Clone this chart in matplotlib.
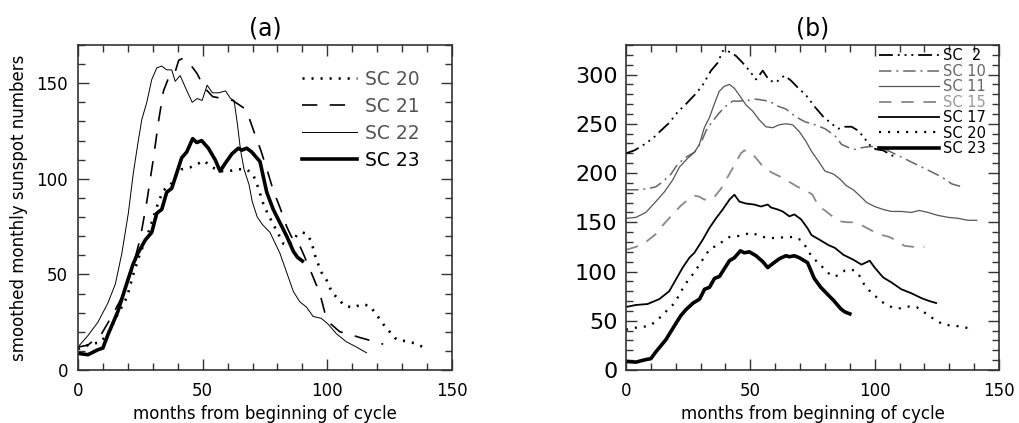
import matplotlib
matplotlib.use('Agg')
import matplotlib.pyplot as plt
from matplotlib.ticker import MultipleLocator

plt.rcParams['font.family'] = ['DejaVu Sans']
plt.rcParams['lines.scale_dashes'] = False

# ---- panel (a): months from start of cycle vs smoothed sunspot number ----
sc20_m = [0, 5, 9, 12, 15.5, 19.6, 22.2, 24.9, 27.6, 30.3, 32.3, 34.3, 37, 39, 41.6, 45,
          48.3, 50.4, 53.9, 57, 60.4, 64.4, 67.7, 70.3, 72.4, 74, 76, 78, 80, 82.4, 84,
          86, 88, 90, 92, 93.6, 95.5, 97.7, 99.7, 101.7, 104.4, 107, 110.4, 113.7, 117,
          119.7, 122.4, 125, 127.7, 131.7, 135, 138.4, 140]
sc20_r = [11, 13.5, 14.5, 19, 28, 38, 50, 61, 69.5, 80, 88, 94, 96.5, 101, 105, 106,
          108, 109.5, 106, 104, 104, 105, 105, 102, 95, 88, 82, 77, 72, 66, 65,
          67, 71, 72, 71, 67, 58, 51, 47, 41, 37, 33.6, 32.6, 34.4, 33.6,
          29, 24, 20, 16, 15, 14, 12, 11]

sc21_m = [0, 4, 9.5, 13.5, 17.6, 21.6, 25, 27.6, 30.3, 32.3, 34.3, 37, 39, 40.4, 42,
          44.4, 47.8, 50.5, 54, 58, 62, 66.6, 68.6, 71.3, 73.3, 76, 78.3, 81, 83.7,
          85.5, 87, 88.4, 90.3, 93.7, 97, 99, 101, 105, 109, 113, 118.4, 122.4]
sc21_r = [12, 13, 19, 28, 38, 52, 69, 88, 111, 130, 146, 155, 156, 162, 163,
          161, 155, 148, 143, 142, 141, 137, 132, 122, 115, 104, 94, 85, 75,
          70, 67, 66.5, 61, 50.5, 40, 30, 24.5, 20, 18.6, 17, 15, 13.5]

sc22_m = [0, 4, 8, 12, 15, 17.6, 20.2, 22.2, 24.2, 25.6, 27.6, 29.6, 31.6, 33.6, 35.6,
          37.6, 39, 41, 43, 45.8, 47.8, 49.8, 51.8, 53.9, 56.5, 59.2, 61.2, 62.6, 63.9,
          65.2, 66.6, 68.6, 69.9, 71.9, 74, 77, 81, 83.7, 86.4, 89, 91.6, 94.3, 97.6,
          100.3, 103.6, 107.6, 111.7, 115.7]
sc22_r = [12, 18, 25, 35, 45, 61, 82, 103, 120, 131, 140, 152, 158, 159, 157,
          157, 151, 154, 148, 140, 142, 141, 149, 145, 145, 146, 142, 141, 129,
          115, 105, 97, 88, 80, 76, 72, 61, 51, 41, 35.6, 33, 28, 27,
          24, 19, 14.8, 12, 9]

sc23_m = [0, 4, 8, 10, 12, 16, 20, 22, 24, 27, 29.6, 31.6, 33.6, 35.6, 37.6, 39.6, 41.6,
          43.6, 46, 47.6, 49.6, 52.3, 55, 57, 59, 61.7, 64.3, 65.7, 67.7, 69.7, 73,
          75.7, 78.3, 81, 83.7, 86.4, 88, 90]
sc23_r = [8.7, 8, 10.6, 11.5, 18.4, 30.6, 47, 55, 61, 68, 72, 82, 84, 93, 95, 103, 111,
          114, 121, 119, 120, 116, 110, 104, 108, 113, 116, 115, 116, 114, 109,
          93, 84, 77, 70, 62, 59, 57]

# ---- panel (b): cycles shifted up so they can be compared ----
sc2_m = [0, 3.4, 6.7, 10.7, 14, 17.4, 20.8, 24.1, 27.5, 30.8, 34.2, 36.9, 38.9, 40.2,
         44.2, 46.9, 49.6, 52.3, 55, 57.6, 60.3, 63.7, 66.3, 69, 72.4, 76, 79.4, 82.7,
         85.4, 88, 90.7, 93.4, 96, 98.8, 100.8, 103.4, 106.8, 108]
sc2_r = [220, 223, 228, 235, 243, 251, 262, 270, 279, 289, 304, 312, 324, 325,
         319, 312, 304, 295, 304, 294, 292, 299, 294, 287, 279, 267, 257, 250,
         245, 247, 247, 243, 235, 226, 224, 223, 218, 217]

sc10_m = [0, 4.5, 8.5, 12, 14.8, 18.1, 20.8, 24.1, 27.5, 30.2, 32.2, 34.9, 37.5, 40.2,
          42.9, 45.6, 49.6, 52.3, 55, 57.6, 61, 64.3, 68.3, 72, 76, 80, 84, 86.7, 89.4,
          92, 95.4, 98.8, 102.8, 106.8, 110.9, 114.9, 119, 123, 127, 131, 135]
sc10_r = [183, 183, 184, 186, 191, 199, 209, 216, 221, 231, 243, 253, 261, 268,
          273, 273, 274, 275, 274, 273, 268, 265, 257, 252, 249, 245, 238, 229, 226,
          224, 226, 227, 226, 221, 216, 211, 206, 201, 196, 189, 186]

sc11_m = [0, 4, 8, 12, 15.5, 18.8, 21.5, 24.8, 27.5, 29.5, 31.5, 33.5, 35.5, 37.5, 39.5,
          41.6, 43.6, 45.6, 48.3, 50.9, 53.6, 56.3, 59, 61.6, 64.3, 67, 69.7, 72.4,
          74.6, 77.4, 80, 83.4, 86, 88.7, 91.4, 94, 96.8, 100, 103.4, 106.7, 110.7,
          114.8, 118, 121.4, 125.4, 129.5, 133.5, 137.5, 141]
sc11_r = [154, 155, 160, 171, 181, 193, 206, 215, 221, 229, 246, 256, 270, 283, 288,
          290, 286, 279, 269, 263, 254, 247, 246, 249, 250, 249, 242, 232,
          222, 212, 202, 199, 194, 187, 183, 177, 170, 166, 163, 161, 161,
          160, 162, 160, 157, 155, 154, 152, 152]

sc15_m = [0, 4, 8, 12, 14.8, 18.8, 22.1, 25.5, 27.5, 29.5, 31.5, 35, 38.2, 40.9, 43.6,
          46.2, 47.6, 50.3, 53, 55.6, 59, 62.3, 65.7, 69, 72, 75, 77.5, 80, 83, 86, 89,
          91, 94, 97, 100, 103, 106, 109, 112, 116, 120]
sc15_r = [122, 125, 130, 138, 147, 158, 167, 174, 177, 176, 173, 174, 184, 196, 208,
          220, 223, 221, 213, 205, 200, 196, 191, 186, 183, 178, 166, 162, 156, 151, 150,
          150, 148, 144, 140, 137, 135, 131, 126, 125, 125]

sc17_m = [0, 4, 8.7, 13.4, 17.4, 20.1, 22.8, 25.5, 27.5, 30.8, 33.5, 36.2, 38.9, 41.6,
          43.6, 45.6, 48.3, 51.6, 54.3, 57, 58.3, 61, 63, 65.7, 67.7, 70.4, 73, 74.6,
          78, 81.3, 84, 87.4, 91.4, 94.7, 98, 100, 103.4, 106.7, 110.7, 114.7, 118.8,
          122, 124.7]
sc17_r = [64, 66, 67, 72, 80, 92, 104, 114, 119, 132, 144, 154, 163, 173,
          178, 171, 169, 168, 166, 168, 165, 163, 161, 156, 158, 153, 144, 137,
          132, 127, 124, 117, 112, 107, 111, 104, 94, 89, 82, 78, 73,
          70, 68]

sc20_shift = 30   # SC 20 drawn 30 units higher in panel (b)

fig = plt.figure(figsize=(10.19, 4.23), dpi=100)
ax1 = fig.add_axes([0.0765, 0.1253, 0.3671, 0.7683])
ax2 = fig.add_axes([0.6143, 0.1253, 0.3661, 0.7683])

# panel a
l20, = ax1.plot(sc20_m, sc20_r, color='black', lw=1.9, dashes=(1.5, 5))
l21, = ax1.plot(sc21_m, sc21_r, color='black', lw=1.2, dashes=(11, 9))
l22, = ax1.plot(sc22_m, sc22_r, color='black', lw=0.7)
l23, = ax1.plot(sc23_m, sc23_r, color='black', lw=2.6)

leg = ax1.legend([l20, l21, l22, l23], ['SC 20', 'SC 21', 'SC 22', 'SC 23'],
                 loc='upper left', bbox_to_anchor=(0.555, 0.975), frameon=False,
                 handlelength=2.9, handletextpad=0.45, labelspacing=0.42, fontsize=13.5)
for t, c in zip(leg.get_texts(), ['#555555', '#555555', '#555555', 'black']):
    t.set_color(c)

ax1.set_xlim(0, 150)
ax1.set_ylim(0, 170)
ax1.set_title('(a)', fontsize=17, pad=7)
ax1.set_xlabel('months from beginning of cycle', fontsize=12, labelpad=3)
ax1.set_ylabel('smoothed monthly sunspot numbers', fontsize=12, labelpad=6)

# panel b
b2, = ax2.plot(sc2_m, sc2_r, color='black', lw=1.3, dashes=(10, 3.5, 1.4, 3.5, 1.4, 3.5, 1.4, 3.5))
b10, = ax2.plot(sc10_m, sc10_r, color='#666666', lw=1.1, dashes=(9, 3.5, 1.4, 3.5))
b11, = ax2.plot(sc11_m, sc11_r, color='#555555', lw=0.9)
b15, = ax2.plot(sc15_m, sc15_r, color='#888888', lw=1.3, dashes=(9, 7))
b17, = ax2.plot(sc17_m, sc17_r, color='black', lw=1.3)
b20, = ax2.plot(sc20_m, [v + sc20_shift for v in sc20_r], color='black', lw=1.6, dashes=(1.5, 5))
b23, = ax2.plot(sc23_m, sc23_r, color='black', lw=2.6)

leg2 = ax2.legend([b2, b10, b11, b15, b17, b20, b23],
                  ['SC  2', 'SC 10', 'SC 11', 'SC 15', 'SC 17', 'SC 20', 'SC 23'],
                  loc='upper right', bbox_to_anchor=(0.985, 1.012), frameon=False,
                  handlelength=4.1, handletextpad=0.3, labelspacing=0.03,
                  borderaxespad=0.1, fontsize=10.5)
for t, c in zip(leg2.get_texts(), ['black', '#666666', '#666666', '#999999', 'black', 'black', 'black']):
    t.set_color(c)

ax2.set_xlim(0, 150)
ax2.set_ylim(0, 330)
ax2.set_title('(b)', fontsize=17, pad=7)
ax2.set_xlabel('months from beginning of cycle', fontsize=12, labelpad=3)

# IDL-like axes: ticks inside on every side
for ax in (ax1, ax2):
    ax.xaxis.set_major_locator(MultipleLocator(50))
    ax.xaxis.set_minor_locator(MultipleLocator(10))
    ax.yaxis.set_major_locator(MultipleLocator(50))
    ax.yaxis.set_minor_locator(MultipleLocator(10))
    ax.tick_params(which='both', direction='in', top=True, right=True, color='#333333')
    ax.tick_params(which='major', length=8, width=1)
    ax.tick_params(which='minor', length=5, width=1)
    ax.tick_params(axis='x', labelsize=12, pad=9)
    for s in ax.spines.values():
        s.set_color('#333333')
        s.set_linewidth(1.2)

ax1.tick_params(axis='y', labelsize=12, pad=7)
ax2.tick_params(axis='y', labelsize=16, pad=6)

fig.savefig('out.png', dpi=100)
